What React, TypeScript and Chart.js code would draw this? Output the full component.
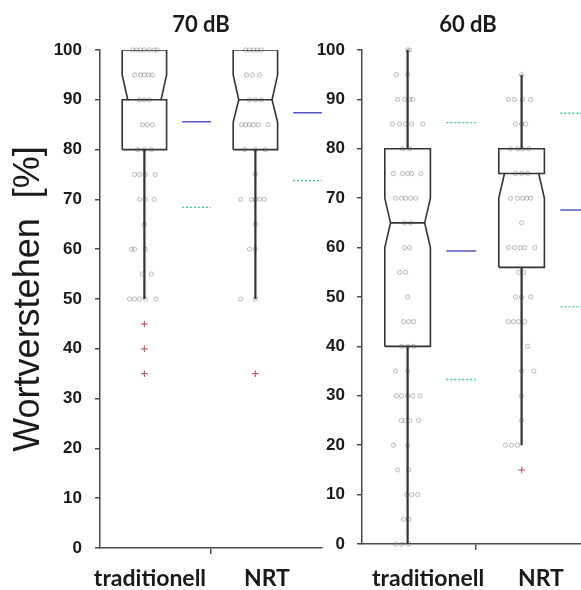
import { useEffect, useRef } from 'react';
import { Chart, registerables } from 'chart.js';

Chart.register(...registerables);

// ---- data ---------------------------------------------------------------

const groups = ['traditionell', 'NRT'];
const yAxisTitle = 'Wortverstehen  [%]';
const yTickValues = [0, 10, 20, 30, 40, 50, 60, 70, 80, 90, 100];

// 70 dB – box statistics per group [traditionell, NRT]
const title70 = '70 dB';
const q1_70 = [80, 80];
const median70 = [90, 90];
const q3_70 = [100, 100];
const notchLow70 = [90, 85.5];
const notchHigh70 = [95, 95];
const whiskerLow70 = [50, 50];
const whiskerHigh70 = [100, 100];
const mean70 = [85.6, 87.4];
const sd70 = [17.2, 13.6];
const outliers70Trad = [45, 40, 35];
const outliers70Nrt = [35];

// 60 dB – box statistics per group [traditionell, NRT]
const title60 = '60 dB';
const q1_60 = [40, 56];
const median60 = [65, 75];
const q3_60 = [80, 80];
const notchLow60 = [60, 70];
const notchHigh60 = [70, 75];
const whiskerLow60 = [0, 20];
const whiskerHigh60 = [100, 95];
const mean60 = [59.3, 67.6];
const sd60 = [26.0, 19.6];
const outliers60Trad: number[] = [];
const outliers60Nrt = [15];

// individual scores and their horizontal jitter (in jitter steps)
const scores70Trad = [100, 100, 100, 100, 100, 100, 100, 95, 95, 95, 95, 95, 90, 90, 90, 85, 85, 85, 80, 80, 80, 75, 75, 75, 75, 70, 70, 70, 65, 60, 60, 60, 55, 55, 50, 50, 50, 50, 50];
const jitter70Trad = [-12, -8, -4, 0, 5, 10, 13, -10, -4, 0, 4, 8, -5, 0, 5, -2, 3, 8, -7, 0, 7, -10, -5, 1, 11, -5, 1, 10, 0, -13, -10, 1, -2, 7, -15, -10, -5, 1, 12];

const scores70Nrt = [100, 100, 100, 100, 100, 95, 95, 95, 90, 90, 90, 85, 85, 85, 85, 85, 85, 80, 80, 80, 75, 70, 70, 70, 70, 70, 65, 60, 60, 50, 50];
const jitter70Nrt = [-10, -6, -2, 2, 6, -9, -3, 4, -6, 0, 6, -14, -10, -6, -2, 3, 13, -11, 0, 10, 0, -15, -4, 0, 4, 9, 0, -6, 0, -15, 0];

const scores60Trad = [100, 100, 95, 95, 90, 90, 90, 90, 85, 85, 85, 85, 85, 80, 80, 75, 75, 75, 75, 75, 70, 70, 70, 70, 70, 65, 65, 60, 60, 55, 55, 50, 45, 45, 45, 40, 40, 40, 35, 35, 30, 30, 30, 30, 30, 25, 25, 25, 25, 20, 20, 15, 15, 10, 10, 10, 5, 5, 0, 0, 0];
const jitter60Trad = [0, 2, -11, 0, -10, -3, 2, 5, -15, -8, -2, 4, 15, -5, 2, -14, -5, 0, 4, 13, -12, -6, -2, 3, 8, -3, 3, -3, 2, -8, -2, 0, -4, 1, 6, -6, 0, 6, -12, 0, -11, -6, 0, 5, 12, -6, -2, 2, 11, -14, 0, -10, 1, -1, 4, 10, -4, 1, -12, -6, 1];

const scores60Nrt = [95, 90, 90, 90, 90, 85, 85, 85, 80, 80, 80, 80, 75, 75, 75, 70, 70, 70, 70, 70, 65, 60, 60, 60, 60, 60, 55, 55, 50, 50, 50, 45, 45, 45, 45, 40, 35, 35, 30, 25, 20, 20, 20];
const jitter60Nrt = [0, -13, -7, 1, 9, -6, 0, 4, -11, -4, 1, 7, -6, 0, 6, -11, -4, 1, 5, 9, 0, -13, -7, -1, 3, 13, -3, 2, -6, 0, 9, -13, -8, -3, 3, 6, 0, 12, 0, 0, -16, -10, -4];

// ---- geometry of the box plots (x axis runs 0..1 per panel) --------------

const GROUP_X = [0.2, 0.7];
const BOX_HALF = 0.1;
const NOTCH_HALF = 0.075;
const MEAN_FROM = 0.17;
const MEAN_TO = 0.3;
const JITTER_STEP = 1 / 225;

const INK = '#333333';
const AXIS = '#4a4a4a';
const TEXT = '#1a1a1a';

type Panel = {
  title: string;
  q1: number[];
  median: number[];
  q3: number[];
  notchLow: number[];
  notchHigh: number[];
  whiskerLow: number[];
  whiskerHigh: number[];
  mean: number[];
  sd: number[];
  outliers: number[][];
  scores: number[][];
  jitter: number[][];
};

type Layout = {
  width: number;
  yAxisWidth: number;
  padRight: number;
  xAxisHeight: number;
  labelX: number[];
  headingX: number;
  showYTitle: boolean;
  yLabelPad: number;
  xLabelPad: number;
};

const panel70: Panel = {
  title: title70,
  q1: q1_70, median: median70, q3: q3_70,
  notchLow: notchLow70, notchHigh: notchHigh70,
  whiskerLow: whiskerLow70, whiskerHigh: whiskerHigh70,
  mean: mean70, sd: sd70,
  outliers: [outliers70Trad, outliers70Nrt],
  scores: [scores70Trad, scores70Nrt],
  jitter: [jitter70Trad, jitter70Nrt],
};

const panel60: Panel = {
  title: title60,
  q1: q1_60, median: median60, q3: q3_60,
  notchLow: notchLow60, notchHigh: notchHigh60,
  whiskerLow: whiskerLow60, whiskerHigh: whiskerHigh60,
  mean: mean60, sd: sd60,
  outliers: [outliers60Trad, outliers60Nrt],
  scores: [scores60Trad, scores60Nrt],
  jitter: [jitter60Trad, jitter60Nrt],
};

const layout70: Layout = {
  width: 330, yAxisWidth: 100, padRight: 8, xAxisHeight: 42,
  labelX: [0.225, 0.752], headingX: 0.455, showYTitle: true,
  yLabelPad: 13, xLabelPad: 11,
};

const layout60: Layout = {
  width: 300, yAxisWidth: 62, padRight: 10, xAxisHeight: 46,
  labelX: [0.29, 0.785], headingX: 0.465, showYTitle: false,
  yLabelPad: 12, xLabelPad: 15,
};

const GAP = { x: null, y: null };

function notchedBox(p: Panel, g: number) {
  const c = GROUP_X[g];
  const L = c - BOX_HALF;
  const R = c + BOX_HALF;
  const Ln = c - NOTCH_HALF;
  const Rn = c + NOTCH_HALF;
  return [
    { x: L, y: p.q1[g] },
    { x: L, y: p.notchLow[g] },
    { x: Ln, y: p.median[g] },
    { x: L, y: p.notchHigh[g] },
    { x: L, y: p.q3[g] },
    { x: R, y: p.q3[g] },
    { x: R, y: p.notchHigh[g] },
    { x: Rn, y: p.median[g] },
    { x: R, y: p.notchLow[g] },
    { x: R, y: p.q1[g] },
    { x: L, y: p.q1[g] },
  ];
}

function buildDatasets(p: Panel) {
  const sets: any[] = [];

  sets.push({
    label: 'Einzelwerte',
    data: p.scores.flatMap((vals, g) =>
      vals.map((v, i) => ({ x: GROUP_X[g] + p.jitter[g][i] * JITTER_STEP, y: v }))
    ),
    showLine: false,
    pointStyle: 'circle',
    pointRadius: 2.2,
    pointBorderWidth: 0.8,
    pointBorderColor: 'rgba(95,95,95,0.45)',
    pointBackgroundColor: 'rgba(170,170,170,0.12)',
    clip: false,
    order: 10,
  });

  groups.forEach((_, g) => {
    sets.push({
      label: 'Box ' + groups[g],
      data: notchedBox(p, g),
      showLine: true,
      pointRadius: 0,
      borderColor: INK,
      borderWidth: 1.6,
      fill: false,
      order: 6,
    });
    sets.push({
      label: 'Median ' + groups[g],
      data: [
        { x: GROUP_X[g] - NOTCH_HALF, y: p.median[g] },
        { x: GROUP_X[g] + NOTCH_HALF, y: p.median[g] },
      ],
      showLine: true,
      pointRadius: 0,
      borderColor: INK,
      borderWidth: 1.6,
      order: 6,
    });
  });

  sets.push({
    label: 'Whisker',
    data: groups.flatMap((_, g) => [
      { x: GROUP_X[g], y: p.q3[g] },
      { x: GROUP_X[g], y: p.whiskerHigh[g] },
      GAP,
      { x: GROUP_X[g], y: p.q1[g] },
      { x: GROUP_X[g], y: p.whiskerLow[g] },
      GAP,
    ]),
    showLine: true,
    spanGaps: false,
    pointRadius: 0,
    borderColor: INK,
    borderWidth: 2.2,
    order: 5,
  });

  sets.push({
    label: 'Ausreißer',
    data: p.outliers.flatMap((vals, g) => vals.map((v) => ({ x: GROUP_X[g], y: v }))),
    showLine: false,
    pointStyle: 'cross',
    pointRadius: 3.2,
    pointBorderWidth: 1.2,
    pointBorderColor: 'rgba(180,70,75,0.85)',
    clip: false,
    order: 4,
  });

  sets.push({
    label: 'Mittelwert',
    data: groups.flatMap((_, g) => [
      { x: GROUP_X[g] + MEAN_FROM, y: p.mean[g] },
      { x: GROUP_X[g] + MEAN_TO, y: p.mean[g] },
      GAP,
    ]),
    showLine: true,
    spanGaps: false,
    pointRadius: 0,
    borderColor: '#5656c8',
    borderWidth: 1.6,
    order: 3,
  });

  sets.push({
    label: 'Mittelwert ± SD',
    data: groups.flatMap((_, g) => [
      { x: GROUP_X[g] + MEAN_FROM, y: p.mean[g] - p.sd[g] },
      { x: GROUP_X[g] + MEAN_TO, y: p.mean[g] - p.sd[g] },
      GAP,
      { x: GROUP_X[g] + MEAN_FROM, y: p.mean[g] + p.sd[g] },
      { x: GROUP_X[g] + MEAN_TO, y: p.mean[g] + p.sd[g] },
      GAP,
    ]),
    showLine: true,
    spanGaps: false,
    pointRadius: 0,
    borderColor: '#3cc4a4',
    borderWidth: 1.4,
    borderDash: [2, 2],
    order: 3,
  });

  return sets;
}

function headingPlugin(text: string, xValue: number) {
  return {
    id: 'panelHeading',
    afterDraw(chart: any) {
      const { ctx } = chart;
      const x = chart.scales.x.getPixelForValue(xValue);
      ctx.save();
      ctx.font = 'bold 22px Lato';
      ctx.fillStyle = TEXT;
      ctx.textAlign = 'center';
      ctx.textBaseline = 'alphabetic';
      ctx.fillText(text, x, 32);
      ctx.restore();
    },
  };
}

function makeConfig(p: Panel, L: Layout): any {
  const xTickValues = [L.labelX[0], 0.5, L.labelX[1]];
  return {
    type: 'scatter',
    data: { datasets: buildDatasets(p) },
    options: {
      animation: false,
      responsive: false,
      devicePixelRatio: 1,
      events: [],
      layout: { padding: { left: 0, right: L.padRight, top: 50, bottom: 0 } },
      plugins: {
        legend: { display: false },
        tooltip: { enabled: false },
        title: { display: false },
      },
      scales: {
        x: {
          type: 'linear',
          min: 0,
          max: 1,
          afterBuildTicks: (s: any) => {
            s.ticks = xTickValues.map((value) => ({ value }));
          },
          afterFit: (s: any) => {
            s.height = L.xAxisHeight;
          },
          ticks: {
            autoSkip: false,
            maxRotation: 0,
            padding: L.xLabelPad,
            color: TEXT,
            font: { family: 'Lato', size: 23, weight: 'bold' },
            callback: (v: number) => {
              const i = L.labelX.indexOf(v);
              return i >= 0 ? groups[i] : '';
            },
          },
          grid: {
            display: true,
            drawOnChartArea: false,
            drawTicks: true,
            tickLength: 6,
            lineWidth: 1.5,
            tickColor: (ctx: any) => (ctx.tick && ctx.tick.value === 0.5 ? AXIS : 'rgba(0,0,0,0)'),
          },
          border: { display: true, color: AXIS, width: 1.5 },
        },
        y: {
          type: 'linear',
          min: 0,
          max: 100,
          afterBuildTicks: (s: any) => {
            s.ticks = yTickValues.map((value) => ({ value }));
          },
          afterFit: (s: any) => {
            s.width = L.yAxisWidth;
          },
          ticks: {
            padding: L.yLabelPad,
            color: TEXT,
            font: { family: 'Liberation Sans', size: 17, weight: 'bold' },
          },
          grid: {
            display: true,
            drawOnChartArea: false,
            drawTicks: true,
            tickLength: 5,
            lineWidth: 1.5,
            tickColor: AXIS,
          },
          border: { display: true, color: AXIS, width: 1.5 },
          title: {
            display: L.showYTitle,
            text: yAxisTitle,
            color: TEXT,
            font: { family: 'Liberation Sans', size: 36, weight: 'normal' },
            padding: { top: 7, bottom: 0 },
          },
        },
      },
    },
    plugins: [headingPlugin(p.title, L.headingX)],
  };
}

export default function App() {
  const leftRef = useRef<HTMLCanvasElement>(null);
  const rightRef = useRef<HTMLCanvasElement>(null);

  useEffect(() => {
    const charts = [
      new Chart(leftRef.current!, makeConfig(panel70, layout70)),
      new Chart(rightRef.current!, makeConfig(panel60, layout60)),
    ];
    return () => charts.forEach((c) => c.destroy());
  }, []);

  return (
    <div
      style={{
        position: 'fixed',
        left: 0,
        top: 0,
        width: 581,
        height: 590,
        overflow: 'hidden',
        background: '#ffffff',
      }}
    >
      <canvas ref={leftRef} width={layout70.width} height={590} style={{ position: 'absolute', left: 0, top: 0 }} />
      <canvas ref={rightRef} width={layout60.width} height={590} style={{ position: 'absolute', left: 300, top: 0 }} />
    </div>
  );
}
